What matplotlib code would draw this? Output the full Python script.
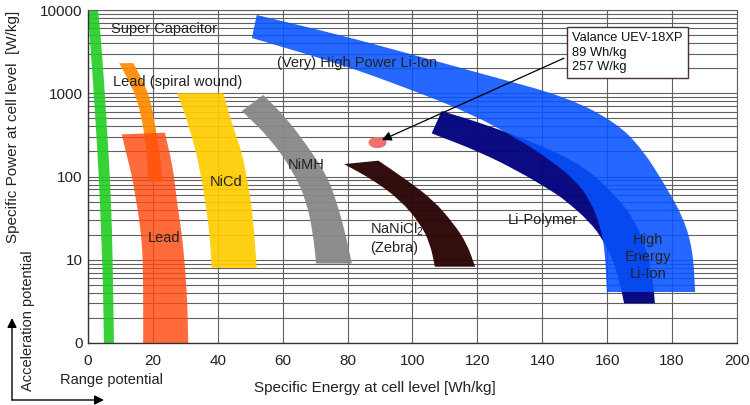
import matplotlib
matplotlib.use("Agg")
import matplotlib.pyplot as plt
from matplotlib.path import Path
from matplotlib.patches import PathPatch, FancyArrowPatch
from matplotlib.ticker import FixedLocator, NullFormatter
import numpy as np

plt.rcParams['font.family'] = ['Liberation Sans', 'DejaVu Sans']
plt.rcParams['mathtext.fontset'] = 'custom'
plt.rcParams['mathtext.rm'] = 'Liberation Sans'
plt.rcParams['mathtext.default'] = 'regular'

# ---- band outlines: specific energy [Wh/kg] and specific power [W/kg] ----
# Super capacitor
supercap_P = [10000, 4400, 1440, 360, 91, 23, 5.7, 1]
supercap_E_lo = [0.0, 0.6, 1.5, 2.5, 3.4, 4.0, 4.6, 4.9]
supercap_E_hi = [3.1, 4.0, 4.9, 5.9, 6.8, 7.4, 7.7, 8.0]

# Lead (spiral wound)
spiral_P = [2300, 1380, 870, 500, 315, 180, 87]
spiral_E_lo = [9.6, 12.7, 15.0, 16.5, 17.4, 18.1, 18.6]
spiral_E_hi = [14.0, 17.0, 19.1, 20.3, 21.2, 22.2, 23.0]

# Lead
lead_E_lo = [10.4, 11.9, 13.5, 14.8, 15.8, 16.5, 17.0, 17.0]
lead_P_lo = [321, 181, 104, 52.2, 30.0, 17.3, 8.2, 1]
lead_E_hi = [23.7, 25.3, 26.5, 27.3, 28.9, 29.9, 30.6, 30.9]
lead_P_hi = [336, 181, 104, 52.2, 21.0, 8.2, 3.3, 1]

# NiCd
nicd_E_lo = [27.5, 31.4, 34.5, 36.6, 37.6, 38.1]
nicd_P_lo = [1000, 379, 125, 37.8, 18.1, 8]
nicd_E_hi = [41.7, 44.8, 47.4, 49.4, 50.9, 52.0]
nicd_P_hi = [1000, 379, 199, 79.1, 31.5, 8]

# NiMH
nimh_E_lo = [47.4, 56.1, 63.3, 67.4, 69.4, 70.3]
nimh_P_lo = [612, 288, 114, 49.8, 19.8, 9]
nimh_E_hi = [54.0, 61.2, 67.4, 73.6, 76.6, 79.2, 81.3]
nimh_P_hi = [953, 500, 239, 104, 49.8, 21.7, 9]

# NaNiCl2 (Zebra)
zebra_E_lo = [78.9, 87.9, 96.2, 102.3, 105.4, 106.9]
zebra_P_lo = [141, 90.8, 52.2, 27.4, 15.8, 8.25]
zebra_E_hi = [89.5, 98.2, 106.4, 112.6, 116.7, 119.3]
zebra_P_hi = [155, 90.8, 52.2, 27.4, 15.8, 8.25]

# Li-Polymer
lipo_E_lo = [105.9, 120.8, 133.1, 142.4, 147.0, 154.7, 158.7, 161.8, 163.9, 165.2]
lipo_P_lo = [330, 197, 113, 68.8, 52.2, 28.4, 17.3, 9.9, 5.3, 3.0]
lipo_E_hi = [109.0, 123.0, 140.2, 152.5, 160.9, 168.0, 172.3, 174.1, 174.7]
lipo_P_hi = [612, 416, 232, 134, 68.8, 32.6, 13.1, 5.7, 3.0]

# (Very) High Power / High Energy Li-Ion
liion_E_lo = [50.5, 77.7, 98.2, 117.7, 133.1, 142.4, 150.1, 154.7, 157.8, 159.3, 159.9]
liion_P_lo = [4610, 2245, 1156, 579, 274, 158, 90.8, 52.2, 26.2, 13.1, 4.1]
liion_E_hi = [52.0, 77.7, 98.2, 123.9, 147.6, 163.0, 171.0, 177.8, 183.4, 186.4, 187.1]
liion_P_hi = [8710, 5010, 3043, 1611, 901, 439, 208, 79.1, 32.6, 13.1, 4.1]

# Valance UEV-18XP cell
valance_E = 89
valance_P = 257

x_ticks = [0, 20, 40, 60, 80, 100, 120, 140, 160, 180, 200]
y_ticks = [1, 10, 100, 1000, 10000]
y_ticklabels = ['0', '10', '100', '1000', '10000']

fig = plt.figure(figsize=(7.5, 4.05), dpi=100)
ax = fig.add_axes([88 / 750, 1 - 343 / 405, 649 / 750, 333 / 405])
ax.set_yscale('log')
ax.set_xlim(0, 200)
ax.set_ylim(1, 10000)

grid_col = '#606060'
ax.set_xticks(x_ticks)
ax.set_yticks(y_ticks)
ax.set_yticklabels(y_ticklabels)
minor = [m * 10 ** d for d in range(4) for m in range(2, 10)]
ax.yaxis.set_minor_locator(FixedLocator(minor))
ax.yaxis.set_minor_formatter(NullFormatter())
ax.grid(True, which='major', axis='both', color=grid_col, lw=0.8)
ax.grid(True, which='minor', axis='y', color=grid_col, lw=0.8)
ax.set_axisbelow(True)
ax.tick_params(which='both', length=0)
ax.tick_params(axis='x', pad=8, labelsize=11, labelcolor='#222222')
ax.tick_params(axis='y', pad=4, labelsize=11, labelcolor='#222222')
for side in ['top', 'right']:
    ax.spines[side].set_color(grid_col)
    ax.spines[side].set_linewidth(0.8)
for side in ['left', 'bottom']:
    ax.spines[side].set_color('#333333')
    ax.spines[side].set_linewidth(1.0)


def smooth_edge(pts):
    """Quadratic Bezier segments through edge midpoints (corner-rounded polyline)."""
    verts = [pts[0]]
    codes = [Path.LINETO]
    if len(pts) > 2:
        verts.append(((pts[0][0] + pts[1][0]) / 2, (pts[0][1] + pts[1][1]) / 2))
        codes.append(Path.LINETO)
        for i in range(1, len(pts) - 1):
            mid = ((pts[i][0] + pts[i + 1][0]) / 2, (pts[i][1] + pts[i + 1][1]) / 2)
            verts += [pts[i], mid]
            codes += [Path.CURVE3, Path.CURVE3]
    verts.append(pts[-1])
    codes.append(Path.LINETO)
    return verts, codes


def band(e_lo, p_lo, e_hi, p_hi, color, alpha=0.92, z=2):
    # work in (E, log10 P) so the rounding follows the plotted geometry
    hi = list(zip(e_hi, np.log10(p_hi)))
    lo = list(zip(e_lo, np.log10(p_lo)))[::-1]
    v1, c1 = smooth_edge(hi)
    v2, c2 = smooth_edge(lo)
    c1[0] = Path.MOVETO
    verts = v1 + v2 + [v1[0]]
    codes = c1 + c2 + [Path.CLOSEPOLY]
    verts = np.array(verts, dtype=float)
    verts[:, 1] = 10 ** verts[:, 1]
    ax.add_patch(PathPatch(Path(verts, codes), facecolor=color, alpha=alpha,
                           lw=0, zorder=z))


band(supercap_E_lo, supercap_P, supercap_E_hi, supercap_P, '#22cc22', 0.9)
band(spiral_E_lo, spiral_P, spiral_E_hi, spiral_P, '#ff8a00', 0.92)
band(lead_E_lo, lead_P_lo, lead_E_hi, lead_P_hi, '#ff4a10', 0.82)
band(nicd_E_lo, nicd_P_lo, nicd_E_hi, nicd_P_hi, '#ffcc00', 0.92)
band(nimh_E_lo, nimh_P_lo, nimh_E_hi, nimh_P_hi, '#878787', 0.95)
band(zebra_E_lo, zebra_P_lo, zebra_E_hi, zebra_P_hi, '#2c0606', 0.97)
band(lipo_E_lo, lipo_P_lo, lipo_E_hi, lipo_P_hi, '#04047e', 0.97)
band(liion_E_lo, liion_P_lo, liion_E_hi, liion_P_hi, '#0652ff', 0.88, z=3)

# Valance cell marker (small ellipse)
t = np.linspace(0, 2 * np.pi, 40)
ell = Path(np.column_stack([np.cos(t) * 1.0, np.sin(t) * 0.62]))
ax.plot([valance_E], [valance_P], marker=ell, markersize=13, color='#f07070',
        markeredgewidth=0, linestyle='none', zorder=4)

ax.annotate('Valance UEV-18XP\n89 Wh/kg\n257 W/kg',
            xy=(valance_E, valance_P), xycoords='data',
            xytext=((572 - 88) / 649, (343 - 32) / 333), textcoords='axes fraction',
            ha='left', va='top', fontsize=9.3, color='#111111', linespacing=1.28,
            bbox=dict(boxstyle='square,pad=0.4', fc='white', ec='#4a3030', lw=1.0),
            arrowprops=dict(arrowstyle='-|>', color='black', lw=0.9,
                            mutation_scale=14, relpos=(0, 0.45), shrinkB=4),
            zorder=6)

txt = dict(fontsize=10.5, color='#222222', zorder=5)
ax.text(7, 5900, 'Super Capacitor', ha='left', va='center', **txt)
ax.text(7.8, 1365, 'Lead (spiral wound)', ha='left', va='center', **txt)
ax.text(42.5, 86, 'NiCd', ha='center', va='center', **txt)
ax.text(23.5, 18, 'Lead', ha='center', va='center', **txt)
ax.text(67.2, 137, 'NiMH', ha='center', va='center', **txt)
ax.text(86.9, 23.4, 'NaNiCl$_2$', ha='left', va='center', **txt)
ax.text(86.9, 13.8, '(Zebra)', ha='left', va='center', **txt)
ax.text(58.2, 2330, '(Very) High Power Li-Ion', ha='left', va='center', **txt)
ax.text(129.4, 30, 'Li-Polymer', ha='left', va='center', **txt)
ax.text(172.6, 10.8, 'High\nEnergy\nLi-Ion', ha='center', va='center',
        linespacing=1.3, **txt)

ax.set_xlabel('Specific Energy at cell level [Wh/kg]', fontsize=11, color='#222222')
ax.xaxis.set_label_coords((374.5 - 88) / 649, (343 - 381) / 333)
ax.set_ylabel('Specific Power at cell level  [W/kg]', fontsize=11, color='#222222')
ax.yaxis.set_label_coords((20 - 88) / 649, (343 - 127) / 333)

# potential arrows in the lower-left corner
fx = lambda px: px / 750
fy = lambda py: 1 - py / 405
arrow_kw = dict(arrowstyle='-|>', color='black', lw=1.0, mutation_scale=14,
                shrinkA=0, shrinkB=0)
fig.add_artist(FancyArrowPatch((fx(12), fy(400)), (fx(12), fy(318)),
                               transform=fig.transFigure, **arrow_kw))
fig.add_artist(FancyArrowPatch((fx(12), fy(400)), (fx(104), fy(400)),
                               transform=fig.transFigure, **arrow_kw))
fig.text(fx(28), fy(321), 'Acceleration potential', rotation=90, ha='center',
         va='center', fontsize=10.5, color='#222222')
fig.text(fx(60), fy(380), 'Range potential', ha='left', va='center',
         fontsize=10.5, color='#222222')

fig.savefig('out.png', dpi=100, facecolor='white')
